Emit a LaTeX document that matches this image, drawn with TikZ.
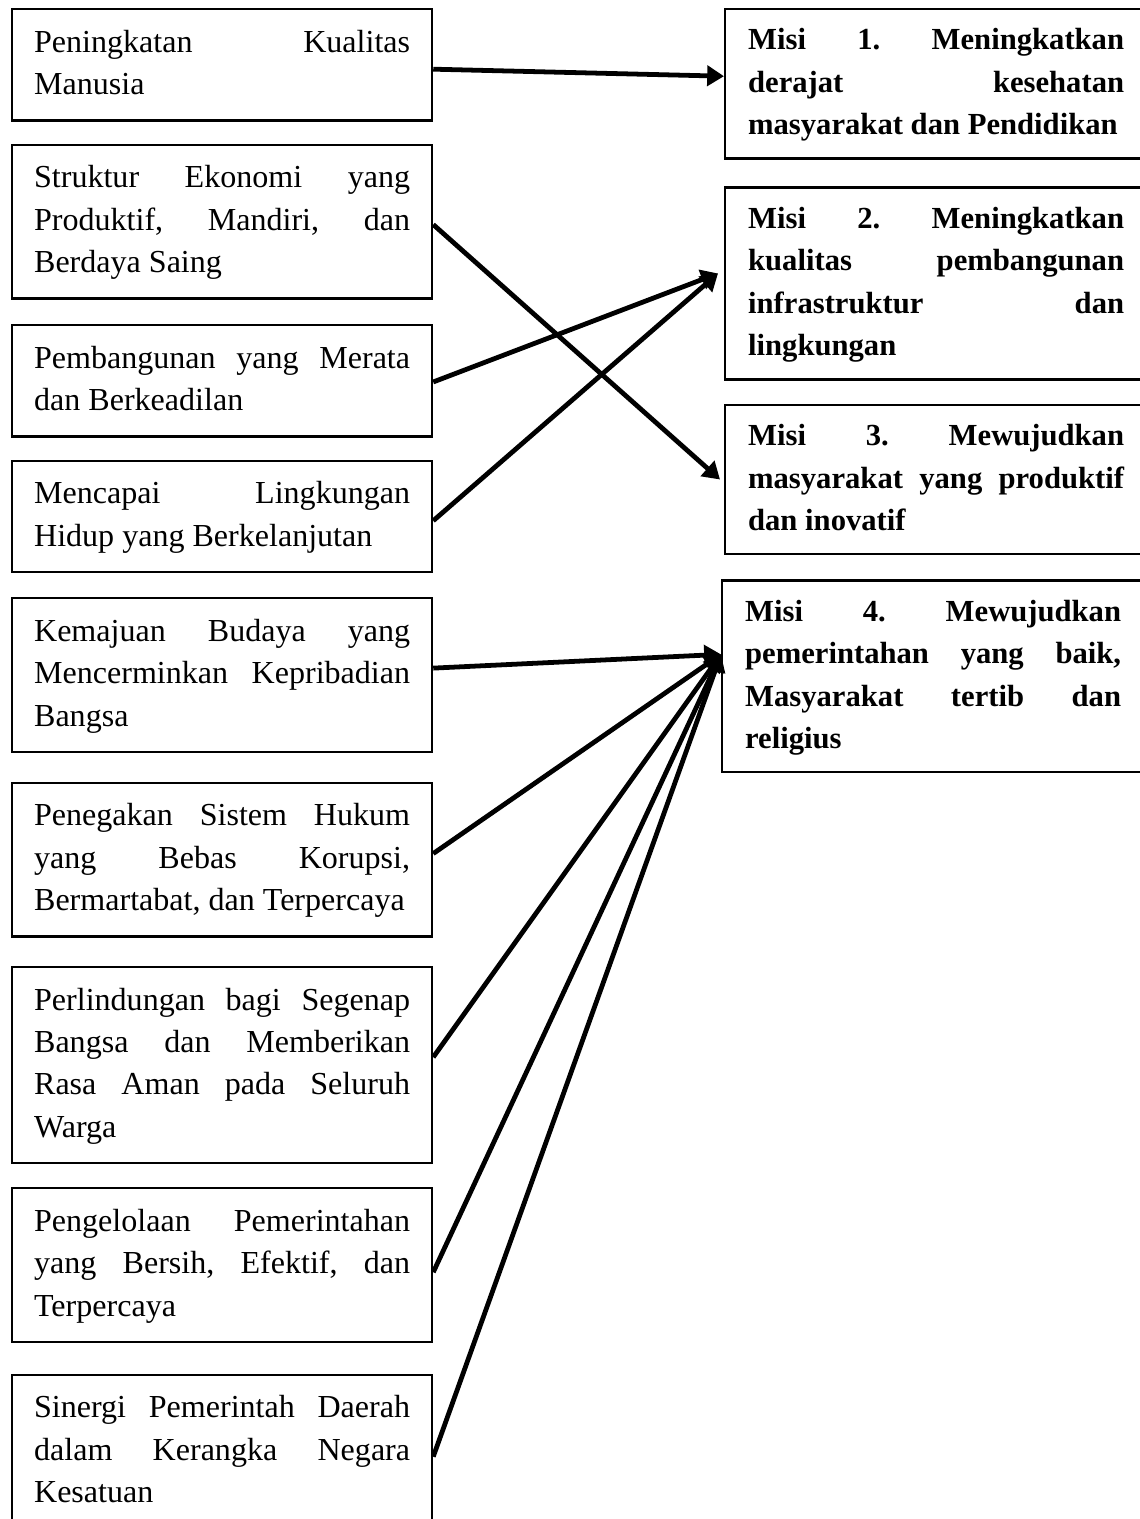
\documentclass[tikz,border=0pt]{standalone}
\usepackage{fontspec}
\setmainfont{Liberation Serif}
\usepackage{tikz}
\usetikzlibrary{arrows.meta,positioning}

% justified text block, lines broken as in the source
\newcommand{\boxtext}[1]{\parbox{9.4cm}{\tolerance=10000\hbadness=10000\hyphenpenalty=10000\frenchspacing\strut#1\strut}}

\begin{document}
\begin{tikzpicture}[
    >={Triangle[length=0.42cm,width=0.5cm]},
    box/.style={draw, line width=1.6pt},
    pilar/.style={box, inner xsep=0.55cm, inner ysep=0.33cm, font=\fontsize{22.8}{30.2}\selectfont},
    misi/.style={box, inner xsep=0.575cm, inner ysep=0.275cm, font=\fontsize{21.8}{30.2}\selectfont\bfseries},
    arr/.style={->, line width=3.4pt},
]

\useasboundingbox (0,0) rectangle (28.475,-37.975);

% Left column
\node[pilar, anchor=north west] (l1) at (0.275,-0.2) {\boxtext{Peningkatan Kualitas\linebreak Manusia}};
\node[pilar, below=0.55cm of l1] (l2) {\boxtext{Struktur Ekonomi yang\linebreak Produktif, Mandiri, dan\linebreak Berdaya Saing}};
\node[pilar, below=0.61cm of l2] (l3) {\boxtext{Pembangunan yang Merata\linebreak dan Berkeadilan}};
\node[pilar, below=0.55cm of l3] (l4) {\boxtext{Mencapai Lingkungan\linebreak Hidup yang Berkelanjutan}};
\node[pilar, below=0.6cm of l4] (l5) {\boxtext{Kemajuan Budaya yang\linebreak Mencerminkan Kepribadian\linebreak Bangsa}};
\node[pilar, below=0.71cm of l5] (l6) {\boxtext{Penegakan Sistem Hukum\linebreak yang Bebas Korupsi,\linebreak Bermartabat, dan Terpercaya}};
\node[pilar, below=0.71cm of l6] (l7) {\boxtext{Perlindungan bagi Segenap\linebreak Bangsa dan Memberikan\linebreak Rasa Aman pada Seluruh\linebreak Warga}};
\node[pilar, below=0.57cm of l7] (l8) {\boxtext{Pengelolaan Pemerintahan\linebreak yang Bersih, Efektif, dan\linebreak Terpercaya}};
\node[pilar, below=0.76cm of l8] (l9) {\boxtext{Sinergi Pemerintah Daerah\linebreak dalam Kerangka Negara\linebreak Kesatuan}};

% Right column (Misi)
\node[misi, anchor=north west] (r1) at (18.1,-0.2) {\boxtext{Misi 1. Meningkatkan\linebreak derajat kesehatan\linebreak masyarakat dan Pendidikan}};
\node[misi, below=0.67cm of r1] (r2) {\boxtext{Misi 2. Meningkatkan\linebreak kualitas pembangunan\linebreak infrastruktur dan\linebreak lingkungan}};
\node[misi, below=0.58cm of r2] (r3) {\boxtext{Misi 3. Mewujudkan\linebreak masyarakat yang produktif\linebreak dan inovatif}};
\node[misi, below=0.6cm of r3, xshift=-0.075cm] (r4) {\boxtext{Misi 4. Mewujudkan\linebreak pemerintahan yang baik,\linebreak Masyarakat tertib dan\linebreak religius}};

% Meeting points on the Misi boxes
\coordinate (m2) at ([xshift=-0.15cm, yshift=0.25cm]r2.west);
\coordinate (m4) at ([yshift=0.55cm]r4.west);

% Arrows
\draw[arr] ([yshift=-0.11cm]l1.east) -- ([yshift=0.19cm]r1.west);
\draw[arr] ([yshift=-0.075cm]l2.east) -- ([xshift=-0.1cm]r3.west);
\draw[arr] ([yshift=-0.03cm]l3.east) -- (m2);
\draw[arr] ([yshift=-0.11cm]l4.east) -- (m2);
\draw[arr] ([yshift=0.175cm]l5.east) -- (m4);
\draw[arr] ([yshift=0.15cm]l6.east) -- (m4);
\draw[arr] ([yshift=0.2cm]l7.east) -- (m4);
\draw[arr] ([yshift=-0.175cm]l8.east) -- (m4);
\draw[arr] ([yshift=-0.125cm]l9.east) -- (m4);

\end{tikzpicture}
\end{document}
